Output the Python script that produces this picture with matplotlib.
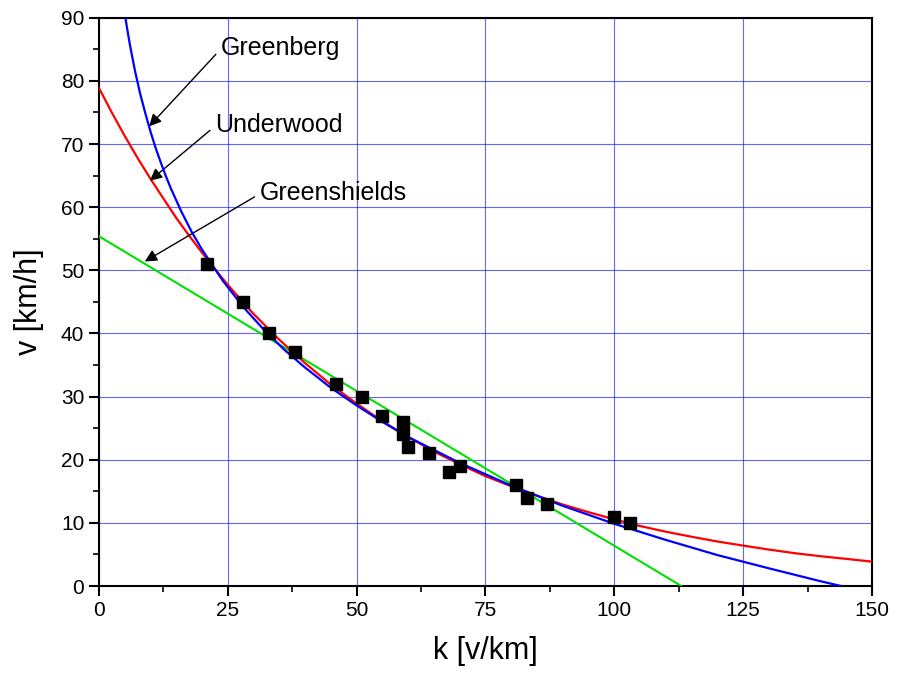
import matplotlib.pyplot as plt
from matplotlib.ticker import MultipleLocator

plt.rcParams['font.family'] = ['Liberation Sans', 'DejaVu Sans']

# measured points
k_data = [21, 28, 33, 38, 46, 51, 55, 59, 59, 60, 64, 68, 70, 81, 83, 87, 100, 103]
v_data = [51, 45, 40, 37, 32, 30, 27, 26, 24, 22, 21, 18, 19, 16, 14, 13, 11, 10]

# curves
k_greenberg = [5, 5.5, 6, 7, 8, 9, 10, 11, 12, 13, 14, 16, 18, 20, 24, 28, 32, 36, 40, 45,
               50, 55, 60, 70, 80, 90, 100, 110, 120, 130, 140, 144]
v_greenberg = [90.7, 88.2, 85.8, 81.6, 78.0, 74.9, 72.0, 69.4, 67.1, 64.9, 62.9, 59.3,
               56.1, 53.3, 48.4, 44.2, 40.6, 37.4, 34.6, 31.4, 28.6, 26.0, 23.6, 19.5,
               15.9, 12.7, 9.85, 7.3, 4.9, 2.8, 0.76, 0]

k_underwood = [0, 2.5, 5, 7.5, 10, 12.5, 15, 17.5, 20, 22.5, 25, 30, 35, 40, 45, 50, 55,
               60, 65, 70, 75, 80, 85, 90, 95, 100, 105, 110, 115, 120, 125, 130, 135,
               140, 145, 150]
v_underwood = [78.9, 75.0, 71.3, 67.8, 64.5, 61.4, 58.3, 55.5, 52.8, 50.2, 47.7, 43.1,
               39.0, 35.3, 31.9, 28.9, 26.1, 23.6, 21.3, 19.3, 17.4, 15.8, 14.3, 12.9,
               11.7, 10.55, 9.5, 8.6, 7.8, 7.05, 6.4, 5.77, 5.2, 4.72, 4.3, 3.86]

k_greenshields = [0, 113]
v_greenshields = [55.4, 0]

fig = plt.figure(figsize=(8.99, 6.83), dpi=100)
ax = fig.add_axes([0.110, 0.142, 0.860, 0.832])

ax.plot(k_greenshields, v_greenshields, color='#00e000', lw=1.5, zorder=3)
ax.plot(k_underwood, v_underwood, color='red', lw=1.6, zorder=3)
ax.plot(k_greenberg, v_greenberg, color='blue', lw=1.6, zorder=4)
ax.plot(k_data, v_data, 'ks', ms=8, zorder=5)

arrow = dict(arrowstyle='-|>', color='black', lw=1.0, mutation_scale=18,
             shrinkA=2, shrinkB=0, relpos=(0, 0.45))
ax.annotate('Greenberg', xy=(9.75, 72.8), xytext=(23.6, 85.2), fontsize=18,
            va='center', ha='left', arrowprops=arrow)
ax.annotate('Underwood', xy=(9.9, 64.2), xytext=(22.5, 73.0), fontsize=18,
            va='center', ha='left', arrowprops=arrow)
ax.annotate('Greenshields', xy=(8.9, 51.4), xytext=(31.2, 62.3), fontsize=18,
            va='center', ha='left', arrowprops=arrow)

ax.set_xlim(0, 150)
ax.set_ylim(0, 90)
ax.xaxis.set_major_locator(MultipleLocator(25))
ax.xaxis.set_minor_locator(MultipleLocator(12.5))
ax.yaxis.set_major_locator(MultipleLocator(10))
ax.yaxis.set_minor_locator(MultipleLocator(5))
ax.grid(True, which='major', color='blue', lw=0.8, alpha=0.6)
ax.tick_params(which='major', direction='out', length=7, width=1.5, labelsize=15,
               top=False, right=False)
ax.tick_params(which='minor', direction='out', length=4, width=1.2,
               top=False, right=False)
for s in ax.spines.values():
    s.set_linewidth(1.5)

ax.set_xlabel('k [v/km]', fontsize=22, labelpad=12)
ax.set_ylabel('v [km/h]', fontsize=22, labelpad=12)

fig.savefig('out.png', dpi=100)
